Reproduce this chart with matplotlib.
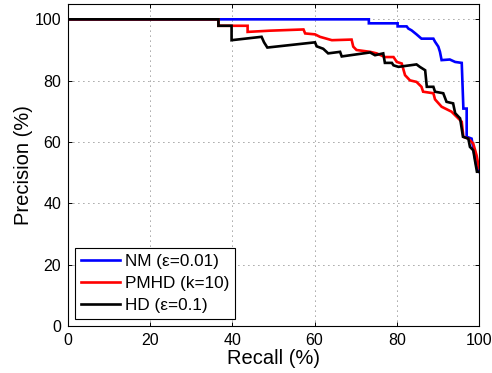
import matplotlib
matplotlib.use("Agg")
import matplotlib.pyplot as plt

plt.rcParams['font.family'] = ['Liberation Sans', 'DejaVu Sans']

# NM (eps=0.01)
nm_recall = [0, 73.2, 73.2, 80.2, 80.2, 82.4, 82.8, 83.6, 84.8, 86.0, 88.9, 89.3, 90.1,
             90.5, 90.9, 92.9, 94.2, 95.8, 96.2, 97.0, 97.0, 98.2, 99.4, 100]
nm_precision = [100, 100, 98.7, 98.7, 97.7, 97.7, 97.0, 96.4, 95.1, 93.7, 93.7, 92.7, 91.1,
                89.4, 86.7, 86.9, 86.1, 85.8, 70.9, 70.9, 61.7, 61.1, 52.0, 50.3]

# PMHD (k=10)
pmhd_recall = [0, 36.6, 36.6, 43.7, 43.7, 49.1, 57.3, 57.7, 60.1, 61.3, 64.2, 69.0, 69.4,
               70.2, 73.5, 75.1, 77.1, 79.2, 80.0, 81.2, 82.0, 83.2, 84.8, 86.0, 86.4, 88.9,
               89.3, 90.9, 93.3, 94.2, 95.8, 96.2, 97.4, 98.6, 99.4, 100]
pmhd_precision = [100, 100, 97.9, 97.9, 95.9, 96.3, 96.7, 95.4, 95.1, 94.3, 93.2, 93.4, 91.1,
                  90.0, 89.4, 88.9, 87.7, 87.7, 86.1, 85.6, 81.8, 80.1, 79.6, 78.0, 76.4, 75.9,
                  73.9, 71.5, 69.9, 68.7, 66.6, 61.7, 61.1, 59.5, 55.7, 51.5]

# HD (eps=0.1)
hd_recall = [0, 36.6, 36.6, 39.8, 39.8, 47.1, 47.7, 48.5, 60.1, 60.5, 62.1, 63.3, 66.2, 66.6,
             73.5, 74.7, 76.7, 77.1, 78.8, 79.2, 80.4, 84.8, 85.6, 86.9, 87.3, 88.9, 89.3,
             91.3, 92.1, 93.7, 94.2, 95.4, 96.1, 97.4, 97.8, 98.6, 99.0, 99.5, 100]
hd_precision = [100, 100, 97.9, 97.9, 93.2, 94.3, 92.5, 90.8, 92.5, 91.2, 90.4, 88.9, 89.4, 87.9,
                89.2, 88.3, 88.9, 85.8, 85.8, 85.0, 84.5, 85.3, 84.5, 83.4, 78.0, 78.0, 76.4,
                75.9, 73.1, 72.6, 69.4, 67.7, 61.7, 61.1, 58.4, 57.3, 54.1, 50.3, 50.3]

labels = ['NM (ε=0.01)', 'PMHD (k=10)', 'HD (ε=0.1)']
colors = ['#0000ff', '#ff0000', '#000000']
xticks = [0, 20, 40, 60, 80, 100]
yticks = [0, 20, 40, 60, 80, 100]

fig = plt.figure(figsize=(4.92, 3.73), dpi=100)
ax = fig.add_axes([68/492, 47/373, 411/492, 322/373])

series = [(nm_recall, nm_precision), (pmhd_recall, pmhd_precision), (hd_recall, hd_precision)]
for (xs, ys), lab, c in zip(series, labels, colors):
    ax.plot(xs, ys, color=c, lw=1.9, label=lab, solid_joinstyle='miter')

ax.set_xlim(0, 100)
ax.set_ylim(0, 105)
ax.set_xticks(xticks)
ax.set_yticks(yticks)
ax.tick_params(direction='in', top=True, right=True, length=3, width=0.7,
               labelsize=11.5, pad=5)
ax.grid(True, color='#444444', linestyle=(0, (1, 5)), linewidth=0.6)
for s in ax.spines.values():
    s.set_linewidth(0.8)
ax.set_xlabel('Recall (%)', fontsize=14.5, labelpad=1)
ax.set_ylabel('Precision (%)', fontsize=14.5, labelpad=1)

leg = ax.legend(loc='lower left', bbox_to_anchor=(0.017, 0.021), borderaxespad=0,
                fontsize=12.3, frameon=True, fancybox=False, handlelength=2.3,
                handletextpad=0.25, labelspacing=0.42, borderpad=0.35)
leg.get_frame().set_edgecolor('black')
leg.get_frame().set_linewidth(0.8)
leg.get_frame().set_alpha(1)

fig.savefig('out.png', dpi=100)
